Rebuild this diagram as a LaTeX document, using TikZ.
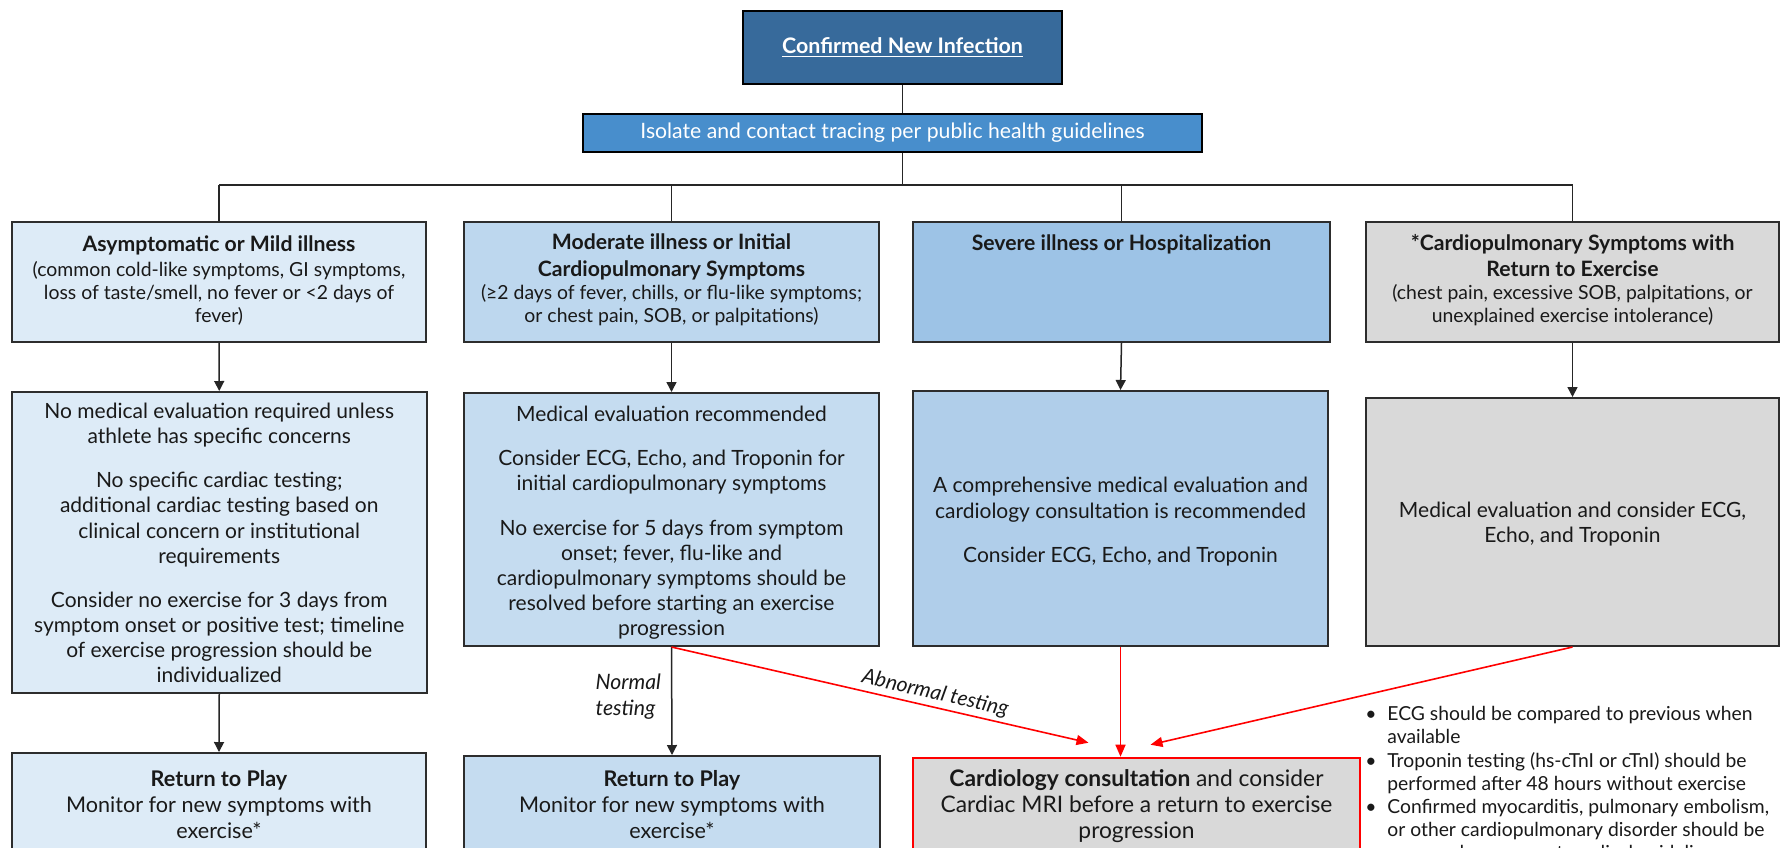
\documentclass[tikz,border=0pt]{standalone}
\usepackage{fontspec}
\setmainfont{Lato}
\usetikzlibrary{arrows.meta,fit,calc}
\definecolor{topblue}{RGB}{55,106,155}
\definecolor{isoblue}{RGB}{72,142,204}
\definecolor{fillA}{RGB}{221,235,247}
\definecolor{fillB}{RGB}{189,215,238}
\definecolor{fillC}{RGB}{157,195,230}
\definecolor{fillBB}{RGB}{197,220,240}
\definecolor{fillCC}{RGB}{176,206,234}
\definecolor{greyfill}{RGB}{217,217,217}
\definecolor{edgecol}{RGB}{45,45,45}
\definecolor{textdark}{RGB}{25,25,25}
\begin{document}
\begin{tikzpicture}[x=0.5pt,y=-0.5pt,
  box/.style={draw=edgecol, line width=1pt, inner sep=0pt},
  conn/.style={draw=black!85, line width=0.75pt},
  arr/.style={conn, -{Triangle[width=5pt,length=5pt]}},
  redarr/.style={draw=red, line width=0.8pt, -{Triangle[width=5pt,length=6pt]}},
  titletxt/.style={font=\fontsize{10.6pt}{13.3pt}\selectfont\bfseries, align=center, text=textdark, inner sep=0pt, anchor=north},
  subtxt/.style={font=\fontsize{9.7pt}{11.7pt}\selectfont, align=center, text=textdark, inner sep=0pt, anchor=north},
  bodytxt/.style={font=\fontsize{10.5pt}{12.6pt}\selectfont, align=center, text=textdark, inner sep=0pt, anchor=north},
  lowtxt/.style={font=\fontsize{10.8pt}{13pt}\selectfont, align=center, text=textdark, inner sep=0pt, anchor=north},
]
\useasboundingbox (0,0) rectangle (1781,847);
\clip (0,0) rectangle (1781,847);
\fill[white] (0,0) rectangle (1781,847);

% top
\node[box, draw=black, fill=topblue, fit={(743,11)(1062,84)}] (a) {};
\node[font=\fontsize{10.7pt}{12pt}\selectfont\bfseries, text=white, inner sep=0pt] (at) at (a.center) {\underline{Confirmed New Infection}};
\node[box, draw=black, fill=isoblue, fit={(583,114)(1202,152)}] (b) {};
\node[font=\fontsize{10.6pt}{12pt}\selectfont, text=white, inner sep=0pt] (bt) at (b.center) {Isolate and contact tracing per public health guidelines};

% row 1
\node[box, fill=fillA, fit={(12,222)(426,341.5)}] (c1) {};
\node[box, fill=fillB, fit={(464,222)(879,341.5)}] (c2) {};
\node[box, fill=fillC, fit={(913,222)(1330,341.5)}] (c3) {};
\node[box, fill=greyfill, fit={(1366,222)(1779,341.5)}] (c4) {};

\node[titletxt] (c1t) at (c1.north |- 0,235.2) {Asymptomatic or Mild illness};
\node[subtxt] (c1s) at (c1.north |- 0,260.7) {(common cold-like symptoms, GI symptoms,\\ loss of taste/smell, no fever or <2 days of\\ fever)};
\node[titletxt] (c2t) at (c2.north |- 0,233.6) {Moderate illness or Initial\\ Cardiopulmonary Symptoms};
\node[subtxt] (c2s) at (c2.north |- 0,284.1) {(≥2 days of fever, chills, or flu-like symptoms;\\ or chest pain, SOB, or palpitations)};
\node[titletxt] (c3t) at (c3.north |- 0,234.2) {Severe illness or Hospitalization};
\node[titletxt] (c4t) at (c4.north |- 0,233.9) {*Cardiopulmonary Symptoms with\\ Return to Exercise};
\node[subtxt] (c4s) at (c4.north |- 0,284.1) {(chest pain, excessive SOB, palpitations, or\\ unexplained exercise intolerance)};

% row 2
\node[box, fill=fillA, fit={(12,392)(426.5,693)}] (d1) {};
\node[box, fill=fillBB, fit={(464,393)(879,646)}] (d2) {};
\node[box, fill=fillCC, fit={(913,391)(1328,646)}] (d3) {};
\node[box, fill=greyfill, fit={(1366,398)(1779,646)}] (d4) {};

\node[bodytxt] (d1t) at (d1.north |- 0,402.7) {No medical evaluation required unless\\ athlete has specific concerns\\[9.4pt]
No specific cardiac testing;\\ additional cardiac testing based on\\ clinical concern or institutional\\ requirements\\[9.4pt]
Consider no exercise for 3 days from\\ symptom onset or positive test; timeline\\ of exercise progression should be\\ individualized};
\node[bodytxt] (d2t) at (d2.north |- 0,405.3) {Medical evaluation recommended\\[9.6pt]
Consider ECG, Echo, and Troponin for\\ initial cardiopulmonary symptoms\\[9.6pt]
No exercise for 5 days from symptom\\ onset; fever, flu-like and\\ cardiopulmonary symptoms should be\\ resolved before starting an exercise\\ progression};
\node[bodytxt] (d3t) at (d3.north |- 0,477) {A comprehensive medical evaluation and\\ cardiology consultation is recommended\\[9.6pt]
Consider ECG, Echo, and Troponin};
\node[bodytxt] (d4t) at (d4.north |- 0,501.3) {Medical evaluation and consider ECG,\\ Echo, and Troponin};

% row 3
\node[box, fill=fillA, fit={(12,753)(426,880)}] (e1) {};
\node[box, fill=fillBB, fit={(464,756)(880,880)}] (e2) {};
\node[box, draw=red, fill=greyfill, fit={(913,757.7)(1360,880)}] (e3) {};

\node[lowtxt] (e1t) at (e1.north |- 0,769.8) {\textbf{Return to Play}\\ Monitor for new symptoms with\\ exercise*};
\node[lowtxt] (e2t) at (e2.north |- 0,769.8) {\textbf{Return to Play}\\ Monitor for new symptoms with\\ exercise*};
\node[lowtxt, font=\fontsize{11.4pt}{13pt}\selectfont] (e3t) at (e3.north |- 0,769.3) {\textbf{Cardiology consultation} and consider\\ Cardiac MRI before a return to exercise\\ progression};

% bullets
\node[anchor=north west, inner sep=0pt, text=textdark, font=\fontsize{9.65pt}{11.6pt}\selectfont] (notes) at (1365,704) {%
\begin{tabular}[t]{@{}l@{}l@{}}
\makebox[11pt][l]{\textbullet} & ECG should be compared to previous when\\
 & available\\
\makebox[11pt][l]{\textbullet} & Troponin testing (hs-cTnI or cTnI) should be\\
 & performed after 48 hours without exercise\\
\makebox[11pt][l]{\textbullet} & Confirmed myocarditis, pulmonary embolism,\\
 & or other cardiopulmonary disorder should be\\
 & managed per current medical guidelines
\end{tabular}};

% connectors
\coordinate (bus) at (902.5,185);
\draw[conn] (a.south) -- (a.south |- b.north);
\draw[conn] (a.south |- b.south) -- (bus);
\draw[conn] (c1.north |- bus) -- (c4.north |- bus);
\foreach \n in {c1,c2,c3,c4} \draw[conn] (\n.north |- bus) -- (\n.north);
\draw[arr] (c1.south) -- (d1.north);
\draw[arr] (c2.south) -- (d2.north);
\draw[arr] (c3.south) -- (d3.north);
\draw[arr] (c4.south) -- (d4.north);
\draw[arr] (d1.south) -- (e1.north);
\draw[arr] (d2.south) -- node[pos=0.46, anchor=east, xshift=-5pt, align=left, inner sep=0pt, font=\fontsize{10.6pt}{13pt}\selectfont\itshape, text=textdark] (normal) {Normal\\ testing} (e2.north);

\coordinate (t1) at ($(e3.north)+(-48,-14)$);
\coordinate (t3) at ($(e3.north)+(14,-12)$);
\draw[redarr] (d2.south) -- node[pos=0.625, sloped, above, inner sep=1.5pt, font=\fontsize{10.5pt}{12pt}\selectfont\itshape, text=textdark] (abn) {Abnormal testing} (t1);
\draw[redarr] (d3.south) -- (d3.south |- e3.north);
\draw[redarr] (d4.south) -- (t3);
\end{tikzpicture}
\end{document}
